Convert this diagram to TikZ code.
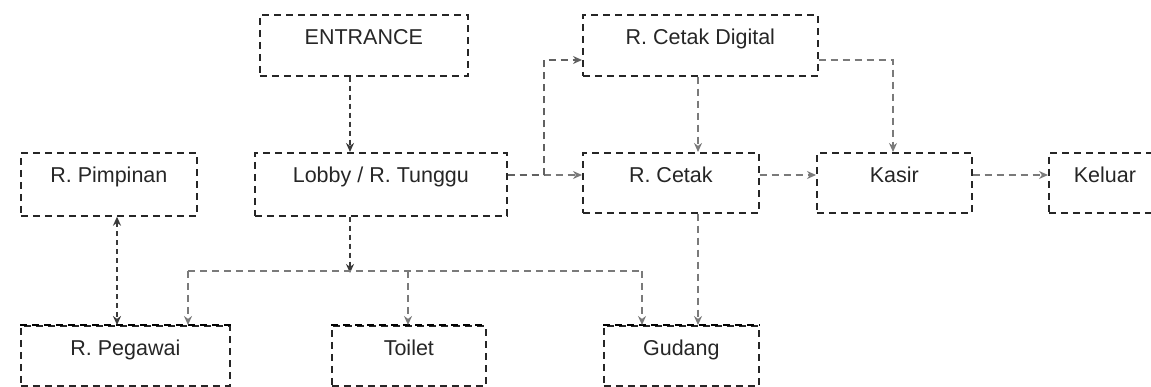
\documentclass[tikz,border=0pt]{standalone}
\usepackage{fontspec}
\setmainfont{Liberation Sans}
\usetikzlibrary{arrows.meta}
\definecolor{linegray}{HTML}{7A7A7A}
\definecolor{linedark}{HTML}{3A3A3A}
\begin{document}
\begin{tikzpicture}[x=1pt,y=-1pt,
  room/.style={draw=black!85, line width=1.7pt, dash pattern=on 7pt off 5pt,
    anchor=north west, inner xsep=0pt, inner ysep=0pt,
    text height=30pt, text=black!85,
    font=\fontsize{21.5}{25}\selectfont},
  flow/.style={draw=linegray, line width=2pt, dash pattern=on 7pt off 5pt,
    -{Stealth[length=9pt,width=8pt]}},
  flowdark/.style={flow, draw=linedark, line width=1.6pt, dash pattern=on 5pt off 4pt},
  plain/.style={draw=linegray, line width=2pt, dash pattern=on 7pt off 5pt}]
\useasboundingbox (0,0) rectangle (1151,387);

% rooms
\node[room, minimum width=208pt, minimum height=61pt, text depth=31pt] (ent) at (259,14) {ENTRANCE};
\node[room, minimum width=235pt, minimum height=61pt, text depth=31pt] (dig) at (582,14) {R. Cetak Digital};
\node[room, minimum width=176pt, minimum height=63pt, text depth=33pt] (pim) at (20,152) {R. Pimpinan};
\node[room, minimum width=252pt, minimum height=63pt, text depth=33pt] (lob) at (254,152) {Lobby / R. Tunggu};
\node[room, minimum width=176pt, minimum height=60pt, text depth=30pt] (cet) at (582,152) {R. Cetak};
\node[room, minimum width=155pt, minimum height=60pt, text depth=30pt] (kas) at (816,152) {Kasir};
\node[room, minimum width=112pt, minimum height=60pt, text depth=30pt] (kel) at (1048,152) {Keluar};
\node[room, minimum width=209pt, minimum height=58pt, text depth=30pt] (peg) at (20,325) {R. Pegawai};
\node[room, minimum width=154pt, minimum height=58pt, text depth=30pt] (toi) at (331,325) {Toilet};
\node[room, minimum width=155pt, minimum height=58pt, text depth=30pt] (gud) at (603,325) {Gudang};

% heavier top edges of the lower rooms
\foreach \r in {peg,toi,gud}
  \draw[draw=black, line width=2.8pt, dash pattern=on 7pt off 5pt] (\r.north west) -- (\r.north east);

% guide coordinates for the connector columns and rows
\coordinate (cx) at (350,0);
\coordinate (cd) at (698,0);
\coordinate (ck) at (893,0);
\coordinate (cp) at (117,0);
\coordinate (cl) at (188,0);
\coordinate (ct) at (408,0);
\coordinate (cg) at (642,0);
\coordinate (cs) at (544,0);
\coordinate (rm) at (0,175);
\coordinate (ru) at (0,60);
\coordinate (rh) at (0,271);

% entrance to lobby
\draw[flowdark] (ent.south -| cx) -- (lob.north -| cx);
% lobby to printing rooms
\draw[flow] (lob.east |- rm) -- (cet.west |- rm);
\draw[flow, draw=linedark!80] (lob.east |- rm) -- (cs |- rm) -- (cs |- ru) -- (dig.west |- ru);
% digital printing onwards
\draw[flow] (dig.south -| cd) -- (cet.north -| cd);
\draw[flow] (dig.east |- ru) -- (ck |- ru) -- (kas.north -| ck);
\draw[flow] (cet.east |- rm) -- (kas.west |- rm);
\draw[flow] (kas.east |- rm) -- (kel.west |- rm);
% printing room to storage
\draw[flow] (cet.south -| cd) -- (gud.north -| cd);
% lobby to the lower rooms
\draw[flowdark] (lob.south -| cx) -- ([yshift=-2pt]cx |- rh);
\draw[plain] (cl |- rh) -- (cg |- rh);
\draw[flow] (cl |- rh) -- (peg.north -| cl);
\draw[flow] (ct |- rh) -- (toi.north -| ct);
\draw[flow] (cg |- rh) -- (gud.north -| cg);
% head office and staff room
\draw[flowdark, {Stealth[length=9pt,width=8pt]}-{Stealth[length=9pt,width=8pt]}] (pim.south -| cp) -- (peg.north -| cp);
\end{tikzpicture}
\end{document}
